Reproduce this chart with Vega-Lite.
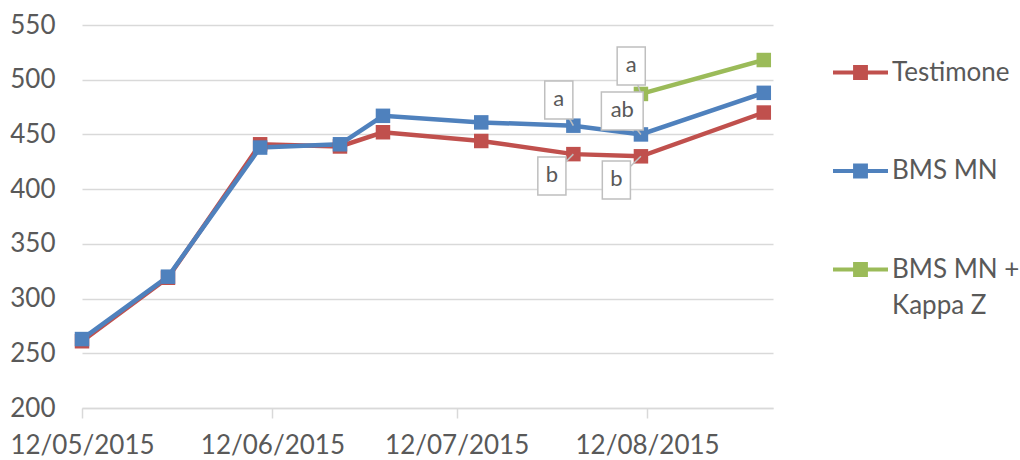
{
  "$schema": "https://vega.github.io/schema/vega-lite/v6.json",
  "width": 691,
  "height": 383,
  "autosize": "none",
  "padding": {"left": 82, "top": 25, "right": 247, "bottom": 52},
  "background": "white",
  "config": {
    "view": {"stroke": null},
    "font": "Lato",
    "style": {"guide-label": {"lineHeight": 36}}
  },
  "datasets": {
    "series": [
      {"serie": "Testimone", "date": "2015-05-12T00:00", "value": 261},
      {"serie": "Testimone", "date": "2015-05-26T00:00", "value": 319},
      {"serie": "Testimone", "date": "2015-06-10T00:00", "value": 441},
      {"serie": "Testimone", "date": "2015-06-23T00:00", "value": 439},
      {"serie": "Testimone", "date": "2015-06-30T00:00", "value": 452},
      {"serie": "Testimone", "date": "2015-07-16T00:00", "value": 444},
      {"serie": "Testimone", "date": "2015-07-31T00:00", "value": 432},
      {"serie": "Testimone", "date": "2015-08-11T00:00", "value": 430},
      {"serie": "Testimone", "date": "2015-08-31T00:00", "value": 470},
      {"serie": "BMS MN", "date": "2015-05-12T00:00", "value": 263},
      {"serie": "BMS MN", "date": "2015-05-26T00:00", "value": 320},
      {"serie": "BMS MN", "date": "2015-06-10T00:00", "value": 438},
      {"serie": "BMS MN", "date": "2015-06-23T00:00", "value": 441},
      {"serie": "BMS MN", "date": "2015-06-30T00:00", "value": 467},
      {"serie": "BMS MN", "date": "2015-07-16T00:00", "value": 461},
      {"serie": "BMS MN", "date": "2015-07-31T00:00", "value": 458},
      {"serie": "BMS MN", "date": "2015-08-11T00:00", "value": 450},
      {"serie": "BMS MN", "date": "2015-08-31T00:00", "value": 488},
      {"serie": "BMS MN + Kappa Z", "date": "2015-08-11T00:00", "value": 487},
      {"serie": "BMS MN + Kappa Z", "date": "2015-08-31T00:00", "value": 518}
    ],
    "callouts": [
      {"label": "a", "date": "2015-07-28T15:00", "value": 481.5, "mdate": "2015-07-31T00:00", "mvalue": 458},
      {"label": "b", "date": "2015-07-27T12:00", "value": 412, "mdate": "2015-07-31T00:00", "mvalue": 432},
      {"label": "a", "date": "2015-08-09T10:00", "value": 512.5, "mdate": "2015-08-11T00:00", "mvalue": 487},
      {"label": "ab", "date": "2015-08-07T23:00", "value": 471.4, "mdate": "2015-08-11T00:00", "mvalue": 450},
      {"label": "b", "date": "2015-08-07T00:00", "value": 408.4, "mdate": "2015-08-11T00:00", "mvalue": 430}
    ]
  },
  "layer": [
    {
      "data": {"name": "series"},
      "mark": {"type": "line", "strokeWidth": 4.5, "point": {"shape": "square", "filled": true, "size": 210, "opacity": 1}},
      "encoding": {
        "x": {
          "field": "date", "type": "temporal",
          "scale": {"domain": [{"year": 2015, "month": 5, "date": 12}, {"year": 2015, "month": 9, "date": 1, "hours": 12}]},
          "axis": {
            "title": null,
            "values": [{"year": 2015, "month": 5, "date": 12}, {"year": 2015, "month": 6, "date": 12}, {"year": 2015, "month": 7, "date": 12}, {"year": 2015, "month": 8, "date": 12}],
            "format": "%d/%m/%Y",
            "grid": false,
            "domainColor": "#d9d9d9", "domainWidth": 1.5,
            "tickColor": "#d9d9d9", "tickWidth": 1.5, "tickSize": 10,
            "labelFont": "Lato", "labelFontSize": 26, "labelColor": "#595959",
            "labelPadding": 14, "labelOverlap": false, "labelFlush": false
          }
        },
        "y": {
          "field": "value", "type": "quantitative",
          "scale": {"domain": [200, 550], "nice": false, "zero": false},
          "axis": {
            "title": null,
            "values": [200, 250, 300, 350, 400, 450, 500, 550],
            "domain": false, "ticks": false,
            "gridColor": "#d9d9d9", "gridWidth": 1.5,
            "labelFont": "Lato", "labelFontSize": 26, "labelColor": "#595959",
            "labelPadding": 27
          }
        },
        "color": {
          "field": "serie", "type": "nominal",
          "scale": {"domain": ["Testimone", "BMS MN", "BMS MN + Kappa Z"], "range": ["#C0504D", "#4F81BD", "#9BBB59"]},
          "legend": {
            "title": null,
            "orient": "none",
            "legendX": 749,
            "legendY": 5,
            "padding": 0,
            "symbolType": "M-1,0.47L1,0.47M-0.27,0.27L0.27,0.27M-0.27,0.4L0.27,0.4M-0.27,0.54L0.27,0.54M-0.27,0.67L0.27,0.67",
            "symbolSize": 3025,
            "symbolStrokeWidth": 4,
            "labelBaseline": "top",
            "labelFont": "Lato", "labelFontSize": 26, "labelColor": "#595959",
            "labelOffset": 2,
            "labelLimit": 300,
            "rowPadding": 42.5,
            "labelExpr": "datum.label == 'BMS MN + Kappa Z' ? ['BMS MN +', 'Kappa Z'] : datum.label"
          }
        }
      }
    },
    {
      "data": {"name": "callouts"},
      "mark": {"type": "rule", "stroke": "#bfbfbf", "strokeWidth": 1.5},
      "encoding": {
        "x": {"field": "date", "type": "temporal"},
        "y": {"field": "value", "type": "quantitative"},
        "x2": {"field": "mdate"},
        "y2": {"field": "mvalue"}
      }
    },
    {
      "data": {"name": "callouts"},
      "mark": {"type": "point", "filled": true, "fill": "white", "stroke": "#bfbfbf", "strokeWidth": 1.5, "opacity": 1, "size": 1444},
      "encoding": {
        "x": {"field": "date", "type": "temporal"},
        "y": {"field": "value", "type": "quantitative"},
        "shape": {
          "condition": {"test": "datum.label === 'ab'", "value": "M-1.1,-1L1.1,-1L1.1,1L-1.1,1Z"},
          "value": "M-0.74,-1L0.74,-1L0.74,1L-0.74,1Z"
        }
      }
    },
    {
      "data": {"name": "callouts"},
      "mark": {"type": "text", "font": "Lato", "fontSize": 22, "color": "#595959", "baseline": "middle", "align": "center", "dy": -1},
      "encoding": {
        "x": {"field": "date", "type": "temporal"},
        "y": {"field": "value", "type": "quantitative"},
        "text": {"field": "label", "type": "nominal"}
      }
    }
  ]
}
